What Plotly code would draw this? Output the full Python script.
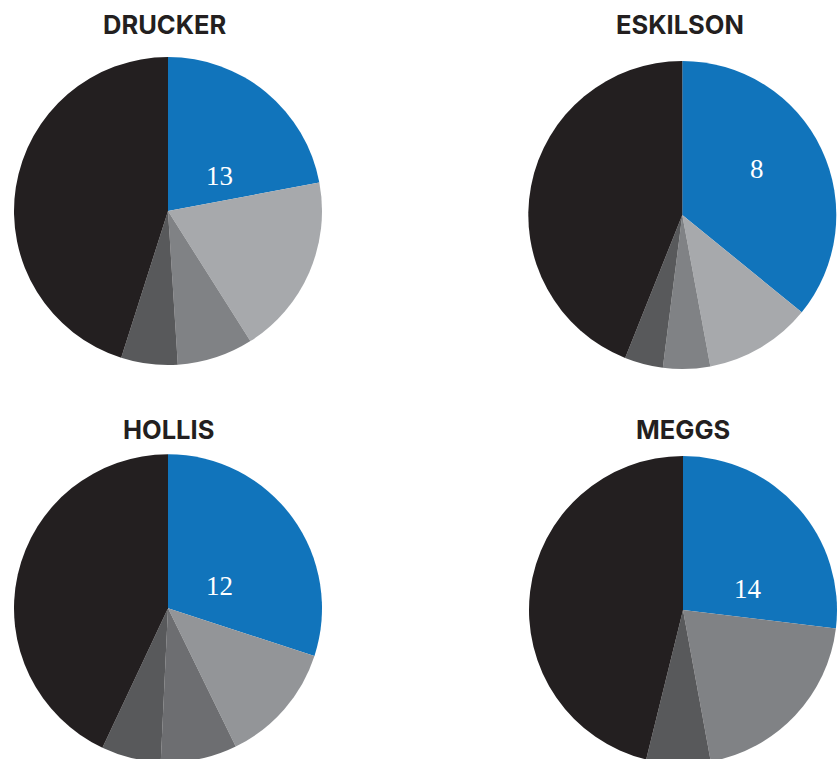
import plotly.graph_objects as go

# Segment shares per author (clockwise from 12 o'clock)
segments = ["Highlighted", "Group B", "Group C", "Group D", "Remainder"]

drucker = [13, 11.2, 4.7, 3.5, 26.6]
eskilson = [8, 2.5, 1.1, 0.9, 9.8]
hollis = [12, 5.1, 3.2, 2.5, 17.2]
meggs = [14, 0, 10.5, 3.5, 24]

authors = ["DRUCKER", "ESKILSON", "HOLLIS", "MEGGS"]

BLUE = "#1174BB"
BLACK = "#231F20"
palettes = {
    "DRUCKER": [BLUE, "#A7A9AC", "#808285", "#58595B", BLACK],
    "ESKILSON": [BLUE, "#A7A9AC", "#808285", "#58595B", BLACK],
    "HOLLIS": [BLUE, "#939598", "#6D6E71", "#58595B", BLACK],
    "MEGGS": [BLUE, "#A7A9AC", "#808285", "#58595B", BLACK],
}

W, H = 837, 766

# pixel centre and radius of each pie
placement = {
    "DRUCKER": (168, 211, 154),
    "ESKILSON": (682.3, 215, 154),
    "HOLLIS": (168, 608.3, 154),
    "MEGGS": (683, 610, 154),
}
# pixel anchor of each author heading
title_pos = {
    "DRUCKER": (165, 24),
    "ESKILSON": (680, 24),
    "HOLLIS": (168, 429),
    "MEGGS": (683, 429),
}
# pixel anchor of the value printed on the highlighted slice
value_pos = {
    "DRUCKER": (219.5, 176),
    "ESKILSON": (757, 169),
    "HOLLIS": (219, 586),
    "MEGGS": (747.5, 589),
}


def domain(cx, cy, r):
    x0, x1 = max(0, (cx - r) / W), min(1, (cx + r) / W)
    y0, y1 = max(0, 1 - (cy + r) / H), min(1, 1 - (cy - r) / H)
    return dict(x=[x0, x1], y=[y0, y1])


def px(x, y):
    return x / W, 1 - y / H


fig = go.Figure()
for name, values in zip(authors, [drucker, eskilson, hollis, meggs]):
    cx, cy, r = placement[name]
    fig.add_trace(go.Pie(
        labels=segments,
        values=values,
        sort=False,
        direction="clockwise",
        rotation=0,
        marker=dict(colors=palettes[name], line=dict(width=0)),
        textinfo="none",
        hoverinfo="label+value",
        showlegend=False,
        domain=domain(cx, cy, r),
    ))

    tx, ty = px(*title_pos[name])
    fig.add_annotation(
        x=tx, y=ty, xref="paper", yref="paper",
        xanchor="center", yanchor="middle",
        text="<b>" + name + "</b>", showarrow=False,
        font=dict(family="Inter, Roboto, sans-serif", size=25.5, color=BLACK),
    )

    vx, vy = px(*value_pos[name])
    fig.add_annotation(
        x=vx, y=vy, xref="paper", yref="paper",
        xanchor="center", yanchor="middle",
        text=f"{values[0]:g}", showarrow=False,
        font=dict(family="Liberation Serif, DejaVu Serif, serif", size=27, color="white"),
    )

fig.update_layout(
    width=W, height=H,
    margin=dict(l=0, r=0, t=0, b=0),
    paper_bgcolor="white",
    plot_bgcolor="white",
)

fig.write_html(
    "out.html",
    post_script="document.body.style.overflow='hidden';document.documentElement.style.overflow='hidden';",
)
